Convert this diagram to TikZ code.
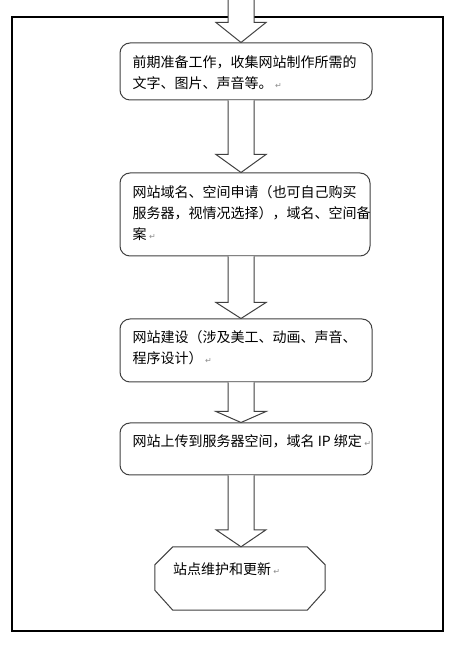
\documentclass[tikz,border=0pt]{standalone}
\usepackage{fontspec}
\newfontfamily\cjk{Noto Sans CJK SC}
\newfontfamily\symfont{DejaVu Sans}
\usetikzlibrary{calc,positioning}

\tikzset{
  stepbox/.style={draw=black!75, line width=1pt, rounded corners=10pt, fill=white, minimum width=252pt, inner sep=0pt},
  endbox/.style={minimum width=170pt, minimum height=63pt, inner sep=0pt},
  endline/.style={draw=black!75, line width=1pt, fill=white},
  txt/.style={inner sep=0pt, align=left, font=\cjk\fontsize{14}{21}\selectfont},
  blockarrow/.style={draw=black!75, line width=1pt, fill=white, line join=miter},
}
\newcommand{\retmark}{\,{\symfont\fontsize{8}{8}\selectfont\color{black!45}↵}}
% hollow arrow: #1 start, #2 tip, #3 head length
\newcommand{\blockarrow}[3]{%
  \draw[blockarrow] ($(#1)+(-13,0)$) -- ($(#2)+(-13,#3)$) -- ($(#2)+(-25,#3)$) -- (#2)
    -- ($(#2)+(25,#3)$) -- ($(#2)+(13,#3)$) -- ($(#1)+(13,0)$);}

\begin{document}
\begin{tikzpicture}[x=1pt, y=1pt]
    \useasboundingbox (0,0) rectangle (461,648);

    % draw frame
    \draw[line width=1.2pt] (12,17) rectangle (443,631);

    % draw boxes
    \node[stepbox, minimum height=57pt] (b1) at (246,576.5) {};
    \node[stepbox, minimum width=250pt, minimum height=83pt] (b2) at (245,433.5) {};
    \node[stepbox, minimum height=63pt] (b3) at (246,297.5) {};
    \node[stepbox, minimum height=52pt] (b4) at (246,199) {};
    \node[endbox] (b5) at (240,69.5) {};
    % octagon round the last box
    \draw[endline] ($(b5.north west)+(18,0)$) -- ($(b5.north east)+(-18,0)$) -- ($(b5.north east)+(0,-18)$)
        -- ($(b5.south east)+(0,20)$) -- ($(b5.south east)+(-18,0)$) -- ($(b5.south west)+(18,0)$)
        -- ($(b5.south west)+(0,20)$) -- ($(b5.north west)+(0,-18)$) -- cycle;

    % draw texts
    \node[txt, below right=13pt and 13pt of b1.north west] (t1) {前期准备工作，收集网站制作所需的\\文字、图片、声音等。\retmark};
    \node[txt, below right=13pt and 13pt of b2.north west] (t2) {网站域名、空间申请（也可自己购买\\服务器，视情况选择），域名、空间备\\案\retmark};
    \node[txt, below right=12pt and 13pt of b3.north west] (t3) {网站建设（涉及美工、动画、声音、\\程序设计）\retmark};
    \node[txt, below right=12pt and 13pt of b4.north west] (t4) {网站上传到服务器空间，域名 IP 绑定\retmark};
    \node[txt, below right=16pt and 18pt of b5.north west] (t5) {站点维护和更新\retmark};

    % draw arrows
    \coordinate (axis) at (241,0);
    \coordinate (top) at (241,650);
    \blockarrow{top}{b1.north -| axis}{20}
    \blockarrow{b1.south -| axis}{b2.north -| axis}{18}
    \blockarrow{b2.south -| axis}{b3.north -| axis}{16}
    \blockarrow{b3.south -| axis}{b4.north -| axis}{11}
    \blockarrow{b4.south -| axis}{b5.north -| axis}{17}
\end{tikzpicture}
\end{document}
